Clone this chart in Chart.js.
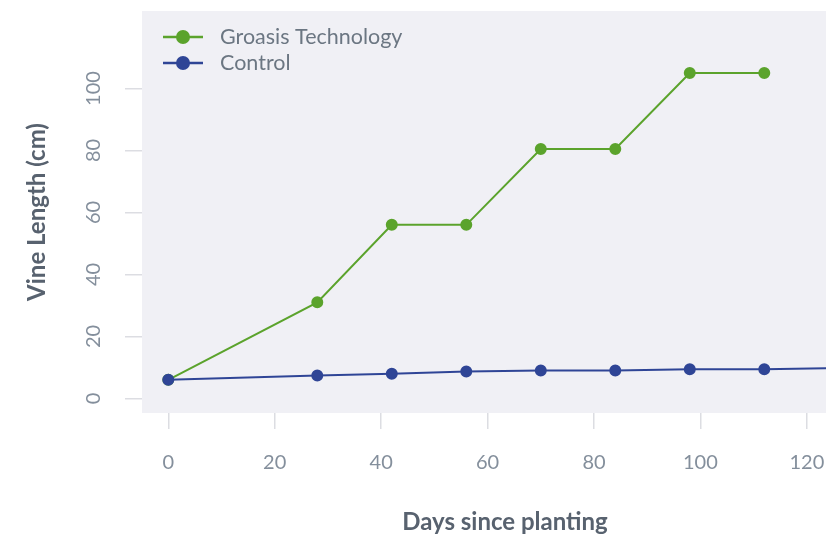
<!DOCTYPE html>
<html lang="en">
<head>
<meta charset="UTF-8">
<title>Vine Length</title>
<style>
  html, body { margin: 0; padding: 0; background: #ffffff; overflow: hidden; }
  #wrap { width: 826px; height: 542px; }
  canvas { display: block; }
</style>
</head>
<body>
<div id="wrap"><canvas id="chart" width="826" height="542"></canvas></div>
<script src="https://cdn.jsdelivr.net/npm/chart.js"></script>
<script>
  // data
  const groasisDays = [0, 28, 42, 56, 70, 84, 98, 112];
  const groasisLength = [6, 31, 56, 56, 80.5, 80.5, 105, 105];
  const controlDays = [0, 28, 42, 56, 70, 84, 98, 112, 126];
  const controlLength = [6, 7.4, 8, 8.7, 9, 9, 9.4, 9.4, 9.8];
  const xTicks = [0, 20, 40, 60, 80, 100, 120];
  const yTicks = [0, 20, 40, 60, 80, 100];
  const xTitle = 'Days since planting';
  const yTitle = 'Vine Length (cm)';

  const FONT = "Lato, 'Noto Sans', sans-serif";
  const GREEN = '#5ba32c';
  const BLUE = '#2f4596';

  const toPoints = (xs, ys) => xs.map((x, i) => ({ x: x, y: ys[i] }));

  const plotBackground = {
    id: 'plotBackground',
    beforeDraw(chart) {
      const { ctx, chartArea: a } = chart;
      ctx.save();
      ctx.fillStyle = '#f0f0f5';
      ctx.fillRect(a.left, a.top, a.right - a.left, a.bottom - a.top);
      ctx.restore();
    }
  };

  // legend sits inside the plot, top left; x title is off-centre like the original
  const extras = {
    id: 'extras',
    afterDatasetsDraw(chart) {
      const { ctx, chartArea: a } = chart;
      ctx.save();
      ctx.font = '21.5px ' + FONT;
      ctx.textBaseline = 'middle';
      chart.data.datasets.forEach((ds, i) => {
        const y = a.top + 26 + i * 26;
        const x0 = a.left + 21;
        ctx.strokeStyle = ds.borderColor;
        ctx.lineWidth = 2.5;
        ctx.beginPath();
        ctx.moveTo(x0, y);
        ctx.lineTo(x0 + 40, y);
        ctx.stroke();
        ctx.fillStyle = ds.borderColor;
        ctx.beginPath();
        ctx.arc(x0 + 20, y, 7, 0, Math.PI * 2);
        ctx.fill();
        ctx.fillStyle = '#6b7682';
        ctx.fillText(ds.label, x0 + 57, y);
      });
      ctx.font = 'bold 24px ' + FONT;
      ctx.fillStyle = '#58626f';
      ctx.textAlign = 'center';
      ctx.fillText(xTitle, a.left + 363, 522);
      ctx.restore();
    }
  };

  const noMargins = s => {
    s.paddingLeft = 0; s.paddingRight = 0; s.paddingTop = 0; s.paddingBottom = 0;
  };

  new Chart(document.getElementById('chart'), {
    type: 'line',
    data: {
      datasets: [{
        label: 'Groasis Technology',
        data: toPoints(groasisDays, groasisLength),
        borderColor: GREEN,
        backgroundColor: GREEN,
        borderWidth: 2,
        pointRadius: 5,
        pointHoverRadius: 5,
        tension: 0,
        order: 1
      }, {
        label: 'Control',
        data: toPoints(controlDays, controlLength),
        borderColor: BLUE,
        backgroundColor: BLUE,
        borderWidth: 2,
        pointRadius: 5,
        pointHoverRadius: 5,
        tension: 0,
        order: 0
      }]
    },
    options: {
      responsive: false,
      animation: false,
      layout: { autoPadding: false, padding: { top: 11, right: 0, left: 0, bottom: 0 } },
      plugins: {
        legend: { display: false },
        tooltip: { enabled: false }
      },
      scales: {
        x: {
          type: 'linear',
          min: -4.94,
          max: 123.6,
          afterBuildTicks: s => { s.ticks = xTicks.map(v => ({ value: v })); },
          afterFit: s => { s.height = 129; noMargins(s); },
          border: { display: false },
          grid: { drawOnChartArea: false, tickLength: 16, color: '#dcdde2', lineWidth: 1.5 },
          ticks: { color: '#848f9c', padding: 22, font: { family: FONT, size: 20, weight: 400 } },
          title: { display: false, text: xTitle }
        },
        y: {
          type: 'linear',
          min: -4.7,
          max: 125,
          afterBuildTicks: s => { s.ticks = yTicks.map(v => ({ value: v })); },
          afterFit: s => { s.width = 142; noMargins(s); },
          border: { display: false },
          grid: { drawOnChartArea: false, tickLength: 17, color: '#dcdde2', lineWidth: 1.5 },
          ticks: {
            color: '#848f9c',
            padding: 14,
            minRotation: 90,
            maxRotation: 90,
            crossAlign: 'center',
            font: { family: FONT, size: 20, weight: 400 }
          },
          title: {
            display: true,
            text: yTitle,
            color: '#58626f',
            padding: { top: 23, bottom: 0 },
            font: { family: FONT, size: 24, weight: 'bold' }
          }
        }
      }
    },
    plugins: [plotBackground, extras]
  });
</script>
</body>
</html>
